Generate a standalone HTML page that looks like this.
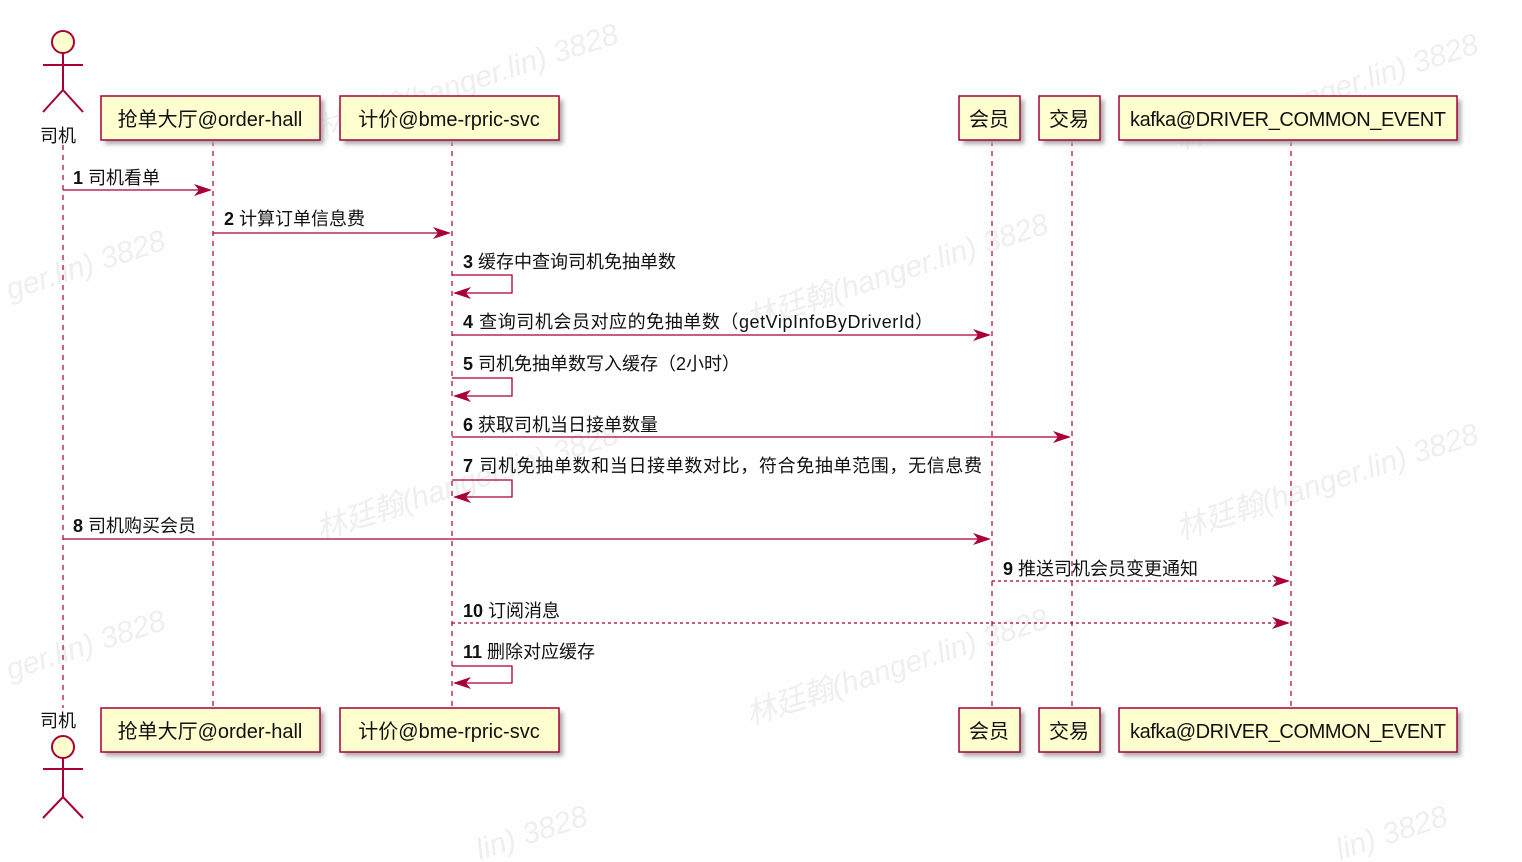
<!DOCTYPE html>
<html><head><meta charset="utf-8"><style>
html,body{margin:0;padding:0;background:#fefefe;overflow:hidden;width:1522px;height:862px;}
svg{display:block;}
text{font-family:"Liberation Sans","Noto Sans CJK SC",sans-serif;}
</style></head><body>
<svg width="1522" height="862" viewBox="0 0 1522 862" xmlns="http://www.w3.org/2000/svg">
<defs>
<filter id="sh" x="-10%" y="-10%" width="130%" height="160%"><feGaussianBlur stdDeviation="2"/></filter>
</defs>
<rect width="1522" height="862" fill="#fefefe"/>
<g fill="#efefef" font-size="30" font-style="italic">
<text x="320" y="140" transform="rotate(-18 320 140)">林廷翰(hanger.lin) 3828</text>
<text x="750" y="330" transform="rotate(-18 750 330)">林廷翰(hanger.lin) 3828</text>
<text x="1180" y="150" transform="rotate(-18 1180 150)">林廷翰(hanger.lin) 3828</text>
<text x="320" y="540" transform="rotate(-18 320 540)">林廷翰(hanger.lin) 3828</text>
<text x="1180" y="540" transform="rotate(-18 1180 540)">林廷翰(hanger.lin) 3828</text>
<text x="750" y="725" transform="rotate(-18 750 725)">林廷翰(hanger.lin) 3828</text>
<text x="10" y="300" transform="rotate(-18 10 300)">ger.lin) 3828</text>
<text x="10" y="680" transform="rotate(-18 10 680)">ger.lin) 3828</text>
<text x="480" y="860" transform="rotate(-18 480 860)">lin) 3828</text>
<text x="1340" y="860" transform="rotate(-18 1340 860)">lin) 3828</text>
</g>
<g stroke="#a80036" stroke-width="1.2" stroke-dasharray="5,5">
<line x1="63" y1="145" x2="63" y2="708"/>
<line x1="213" y1="141" x2="213" y2="708"/>
<line x1="452" y1="141" x2="452" y2="708"/>
<line x1="992" y1="141" x2="992" y2="708"/>
<line x1="1072" y1="141" x2="1072" y2="708"/>
<line x1="1291" y1="141" x2="1291" y2="708"/>
</g>
<g>
<g fill="#aaa" filter="url(#sh)">
<rect x="105" y="100" width="219" height="44"/><rect x="344" y="100" width="219" height="44"/>
<rect x="963" y="100" width="61" height="44"/><rect x="1043" y="100" width="61" height="44"/><rect x="1123" y="100" width="338" height="44"/>
<rect x="105" y="712" width="219" height="44"/><rect x="344" y="712" width="219" height="44"/>
<rect x="963" y="712" width="61" height="44"/><rect x="1043" y="712" width="61" height="44"/><rect x="1123" y="712" width="338" height="44"/>
</g>
<g fill="#fefece" stroke="#a80036" stroke-width="1.5">
<rect x="101" y="96" width="219" height="44"/><rect x="340" y="96" width="219" height="44"/>
<rect x="959" y="96" width="61" height="44"/><rect x="1039" y="96" width="61" height="44"/><rect x="1119" y="96" width="338" height="44"/>
<rect x="101" y="708" width="219" height="44"/><rect x="340" y="708" width="219" height="44"/>
<rect x="959" y="708" width="61" height="44"/><rect x="1039" y="708" width="61" height="44"/><rect x="1119" y="708" width="338" height="44"/>
</g>
<g font-size="20" fill="#111" text-anchor="middle">
<text x="210" y="126">抢单大厅@order-hall</text><text x="449" y="126">计价@bme-rpric-svc</text>
<text x="989" y="126">会员</text><text x="1069" y="126">交易</text><text x="1288" y="126" textLength="316">kafka@DRIVER_COMMON_EVENT</text>
<text x="210" y="738">抢单大厅@order-hall</text><text x="449" y="738">计价@bme-rpric-svc</text>
<text x="989" y="738">会员</text><text x="1069" y="738">交易</text><text x="1288" y="738" textLength="316">kafka@DRIVER_COMMON_EVENT</text>
</g>
</g>
<g stroke="#a80036" stroke-width="2" fill="none">
<circle cx="63" cy="42" r="11" fill="#fefece"/>
<path d="M63 53V90M43 65H83M43 112L63 90L83 112"/>
<circle cx="63" cy="747" r="11" fill="#fefece"/>
<path d="M63 758V797M43 769H83M43 818L63 797L83 818"/>
</g>
<g font-size="18" fill="#111" text-anchor="middle"><text x="58" y="142">司机</text><text x="58" y="727">司机</text></g>
<g stroke="#a80036" stroke-width="1.3" fill="none">
<line x1="63" y1="190" x2="210" y2="190"/>
<line x1="213" y1="233" x2="449" y2="233"/>
<path d="M452 275H512V293H455"/>
<line x1="452" y1="335" x2="989" y2="335"/>
<path d="M452 378H512V396H455"/>
<line x1="452" y1="437" x2="1069" y2="437"/>
<path d="M452 480H512V497H455"/>
<line x1="63" y1="539" x2="989" y2="539"/>
<line x1="992" y1="581" x2="1288" y2="581" stroke-dasharray="3,3"/>
<line x1="452" y1="623" x2="1288" y2="623" stroke-dasharray="3,3"/>
<path d="M452 666H512V683H455"/>
</g>
<g fill="#a80036">
<path d="M212 190l-18-6 5 6-5 6z"/>
<path d="M451 233l-18-6 5 6-5 6z"/>
<path d="M453 293l18-6-5 6 5 6z"/>
<path d="M991 335l-18-6 5 6-5 6z"/>
<path d="M453 396l18-6-5 6 5 6z"/>
<path d="M1071 437l-18-6 5 6-5 6z"/>
<path d="M453 497l18-6-5 6 5 6z"/>
<path d="M991 539l-18-6 5 6-5 6z"/>
<path d="M1290 581l-18-6 5 6-5 6z"/>
<path d="M1290 623l-18-6 5 6-5 6z"/>
<path d="M453 683l18-6-5 6 5 6z"/>
</g>
<g font-size="18" fill="#111">
<text x="73" y="184"><tspan font-weight="bold">1</tspan> 司机看单</text>
<text x="224" y="225"><tspan font-weight="bold">2</tspan> 计算订单信息费</text>
<text x="463" y="268"><tspan font-weight="bold">3</tspan> 缓存中查询司机免抽单数</text>
<text x="463" y="328" textLength="470"><tspan font-weight="bold">4</tspan> 查询司机会员对应的免抽单数（getVipInfoByDriverId）</text>
<text x="463" y="370"><tspan font-weight="bold">5</tspan> 司机免抽单数写入缓存（2小时）</text>
<text x="463" y="431"><tspan font-weight="bold">6</tspan> 获取司机当日接单数量</text>
<text x="463" y="472" textLength="519"><tspan font-weight="bold">7</tspan> 司机免抽单数和当日接单数对比，符合免抽单范围，无信息费</text>
<text x="73" y="532"><tspan font-weight="bold">8</tspan> 司机购买会员</text>
<text x="1003" y="575"><tspan font-weight="bold">9</tspan> 推送司机会员变更通知</text>
<text x="463" y="617"><tspan font-weight="bold">10</tspan> 订阅消息</text>
<text x="463" y="658"><tspan font-weight="bold">11</tspan> 删除对应缓存</text>
</g>
</svg>
</body></html>
